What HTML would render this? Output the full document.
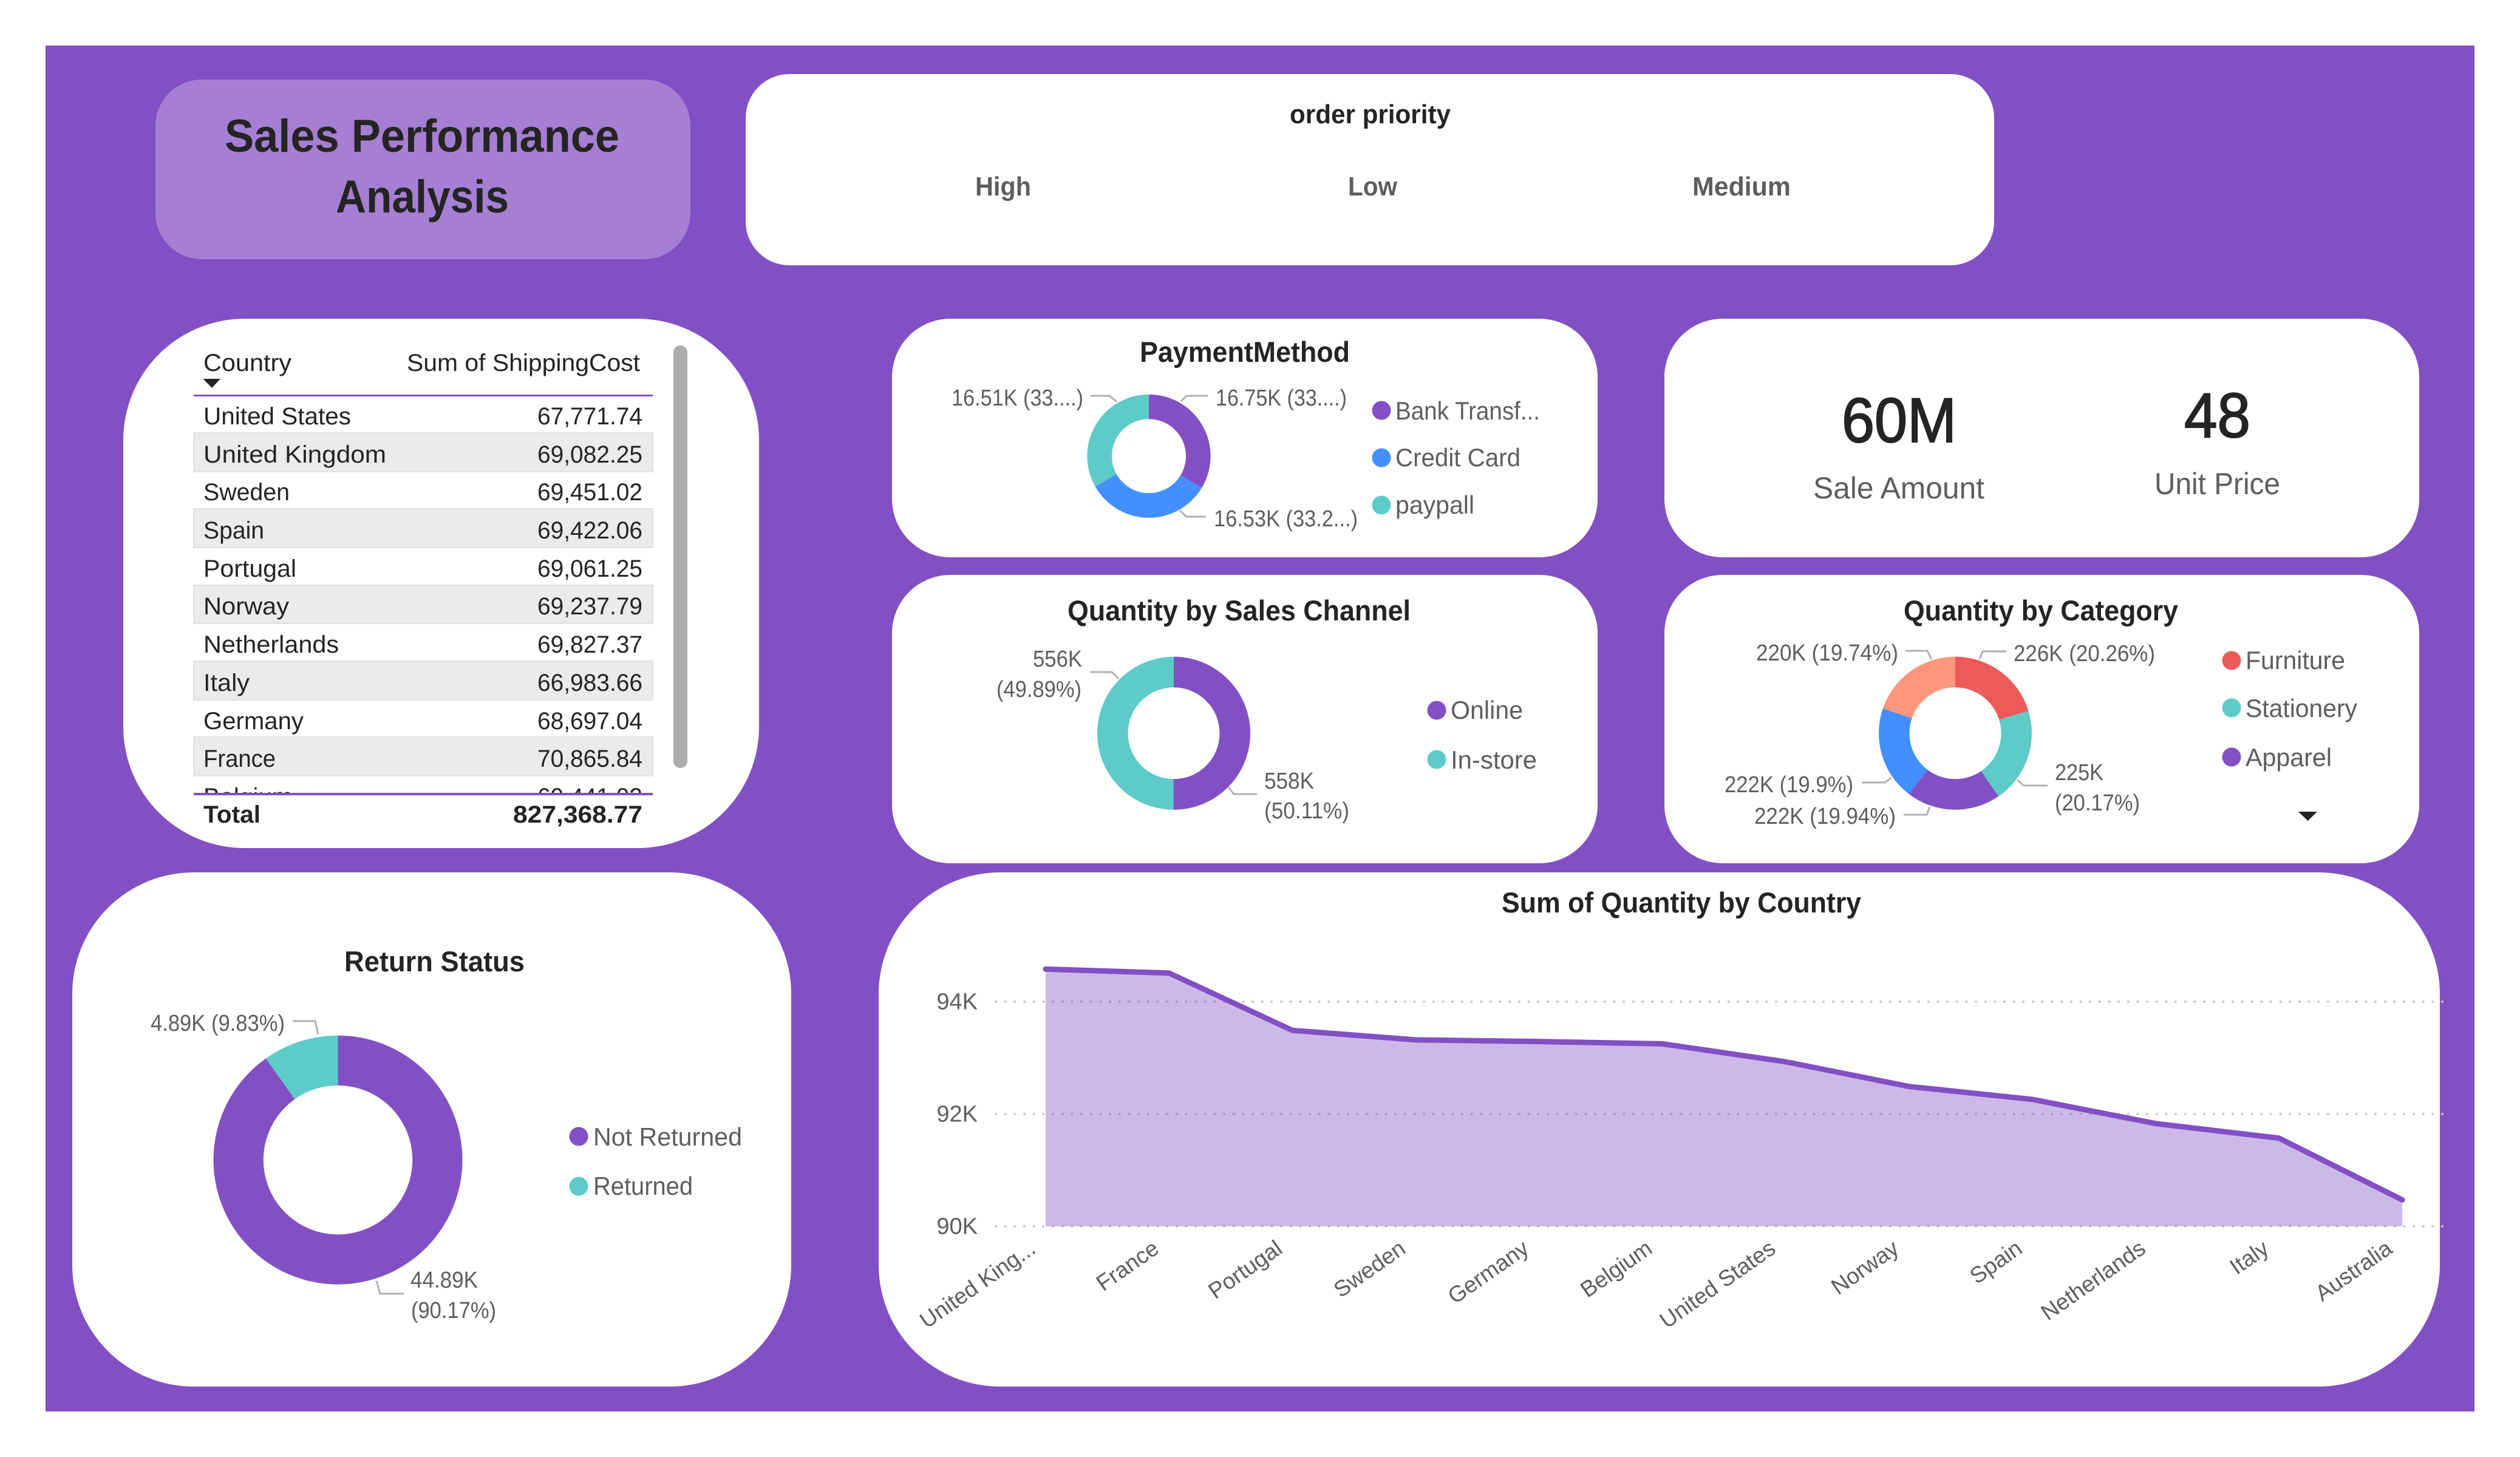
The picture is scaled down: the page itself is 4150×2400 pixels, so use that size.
<!DOCTYPE html>
<html lang="en">
<head>
<meta charset="utf-8">
<title>Sales Performance Analysis</title>
<style>
html,body{margin:0;padding:0;width:4150px;height:2400px;background:#fff;overflow:hidden}
svg{display:block;position:absolute;left:0;top:0}
text{font-family:"Liberation Sans",sans-serif}
.ttl{font-weight:700;font-size:47px;fill:#252423}
.lbl{font-size:38px;fill:#605E5C}
.leg{font-size:42px;fill:#605E5C}
.tb{font-size:40px;fill:#252423}
.tbb{font-size:40px;fill:#252423;font-weight:700}
.slc{font-size:44px;fill:#605E5C;font-weight:700}
.ldr{fill:none;stroke:#B3B0AD;stroke-width:3}
.kpi{font-size:104px;fill:#252423;stroke:#252423;stroke-width:2}
.kpil{font-size:50px;fill:#605E5C}
</style>
</head>
<body>
<svg id="dash" width="4150" height="2400" viewBox="0 0 4150 2400" xmlns="http://www.w3.org/2000/svg">
  <defs>
    <clipPath id="tableClip"><rect x="319" y="655" width="756" height="651"/></clipPath>
  </defs>
  <rect x="75" y="75" width="4000" height="2250" fill="#8250C4"/>

  <!-- Title -->
  <g>
    <rect x="256" y="131" width="881" height="296" rx="76" ry="76" fill="#A47FD4"/>
    <text x="370" y="250" font-size="76" font-weight="700" fill="#252423" textLength="650" lengthAdjust="spacingAndGlyphs">Sales Performance</text>
    <text x="553" y="350" font-size="76" font-weight="700" fill="#252423" textLength="285" lengthAdjust="spacingAndGlyphs">Analysis</text>
  </g>

  <!-- Slicer -->
  <g>
    <rect x="1228" y="122" width="2056" height="315" rx="72" ry="72" fill="#fff"/>
    <text x="2124" y="203" font-size="44" font-weight="700" fill="#252423" textLength="265" lengthAdjust="spacingAndGlyphs">order priority</text>
    <text class="slc" x="1606" y="322" textLength="92" lengthAdjust="spacingAndGlyphs">High</text>
    <text class="slc" x="2220" y="322" textLength="81" lengthAdjust="spacingAndGlyphs">Low</text>
    <text class="slc" x="2787" y="322" textLength="162" lengthAdjust="spacingAndGlyphs">Medium</text>
  </g>

  <!-- Table -->
  <g>
    <rect x="203" y="525" width="1047" height="872" rx="200" ry="200" fill="#fff"/>
    <text class="tb" x="335" y="611" textLength="145" lengthAdjust="spacingAndGlyphs">Country</text>
    <text class="tb" x="670" y="611" textLength="384" lengthAdjust="spacingAndGlyphs">Sum of ShippingCost</text>
    <polygon points="334.5,624 363,624 349,639" fill="#252423"/>
    <g fill="#EBEBEB" stroke="#E1E1E1" stroke-width="2">
      <rect x="319" y="713" width="756" height="64"/>
      <rect x="319" y="838" width="756" height="64"/>
      <rect x="319" y="964" width="756" height="63"/>
      <rect x="319" y="1089" width="756" height="64"/>
      <rect x="319" y="1214" width="756" height="64"/>
    </g>
    <g clip-path="url(#tableClip)">
      <text class="tb" x="335" y="699" textLength="243" lengthAdjust="spacingAndGlyphs">United States</text>
      <text class="tb" x="885" y="699" textLength="173" lengthAdjust="spacingAndGlyphs">67,771.74</text>
      <text class="tb" x="335" y="762" textLength="301" lengthAdjust="spacingAndGlyphs">United Kingdom</text>
      <text class="tb" x="885" y="762" textLength="173" lengthAdjust="spacingAndGlyphs">69,082.25</text>
      <text class="tb" x="335" y="824" textLength="142" lengthAdjust="spacingAndGlyphs">Sweden</text>
      <text class="tb" x="885" y="824" textLength="173" lengthAdjust="spacingAndGlyphs">69,451.02</text>
      <text class="tb" x="335" y="887" textLength="100" lengthAdjust="spacingAndGlyphs">Spain</text>
      <text class="tb" x="885" y="887" textLength="173" lengthAdjust="spacingAndGlyphs">69,422.06</text>
      <text class="tb" x="335" y="950" textLength="153" lengthAdjust="spacingAndGlyphs">Portugal</text>
      <text class="tb" x="885" y="950" textLength="173" lengthAdjust="spacingAndGlyphs">69,061.25</text>
      <text class="tb" x="335" y="1012" textLength="141" lengthAdjust="spacingAndGlyphs">Norway</text>
      <text class="tb" x="885" y="1012" textLength="173" lengthAdjust="spacingAndGlyphs">69,237.79</text>
      <text class="tb" x="335" y="1075" textLength="223" lengthAdjust="spacingAndGlyphs">Netherlands</text>
      <text class="tb" x="885" y="1075" textLength="173" lengthAdjust="spacingAndGlyphs">69,827.37</text>
      <text class="tb" x="335" y="1138" textLength="76" lengthAdjust="spacingAndGlyphs">Italy</text>
      <text class="tb" x="885" y="1138" textLength="173" lengthAdjust="spacingAndGlyphs">66,983.66</text>
      <text class="tb" x="335" y="1201" textLength="165" lengthAdjust="spacingAndGlyphs">Germany</text>
      <text class="tb" x="885" y="1201" textLength="173" lengthAdjust="spacingAndGlyphs">68,697.04</text>
      <text class="tb" x="335" y="1263" textLength="119" lengthAdjust="spacingAndGlyphs">France</text>
      <text class="tb" x="885" y="1263" textLength="173" lengthAdjust="spacingAndGlyphs">70,865.84</text>
      <text class="tb" x="335" y="1326" textLength="147" lengthAdjust="spacingAndGlyphs">Belgium</text>
      <text class="tb" x="885" y="1326" textLength="173" lengthAdjust="spacingAndGlyphs">69,441.03</text>
    </g>
    <rect x="319" y="650" width="756" height="3" fill="#8250C4"/>
    <rect x="319" y="1306" width="756" height="4" fill="#8250C4"/>
    <text class="tbb" x="335" y="1355" textLength="94" lengthAdjust="spacingAndGlyphs">Total</text>
    <text class="tbb" x="845" y="1355" textLength="213" lengthAdjust="spacingAndGlyphs">827,368.77</text>
    <rect x="1109" y="569" width="23" height="696" rx="11" fill="#ADADAD"/>
  </g>

  <!-- Payment method -->
  <g>
    <rect x="1469" y="525" width="1162" height="393" rx="96" ry="96" fill="#fff"/>
    <text class="ttl" x="1877" y="596" textLength="346" lengthAdjust="spacingAndGlyphs">PaymentMethod</text>
    <g id="paymentDonut"></g>
    <polyline class="ldr" points="1796,652 1827,652 1839,662"/>
    <polyline class="ldr" points="1989,652 1954,652 1945,661"/>
    <polyline class="ldr" points="1986,851 1954,851 1943,841"/>
    <text class="lbl" x="1567" y="668" textLength="217" lengthAdjust="spacingAndGlyphs">16.51K (33....)</text>
    <text class="lbl" x="2002" y="668" textLength="216" lengthAdjust="spacingAndGlyphs">16.75K (33....)</text>
    <text class="lbl" x="1999" y="867" textLength="237" lengthAdjust="spacingAndGlyphs">16.53K (33.2...)</text>
    <circle cx="2275" cy="676" r="15.5" fill="#8250C4"/>
    <circle cx="2275" cy="754" r="15.5" fill="#438FFF"/>
    <circle cx="2275" cy="832" r="15.5" fill="#5ECBC8"/>
    <text class="leg" x="2298" y="691" textLength="238" lengthAdjust="spacingAndGlyphs">Bank Transf...</text>
    <text class="leg" x="2298" y="768" textLength="206" lengthAdjust="spacingAndGlyphs">Credit Card</text>
    <text class="leg" x="2298" y="846" textLength="130" lengthAdjust="spacingAndGlyphs">paypall</text>
  </g>

  <!-- Sales channel -->
  <g>
    <rect x="1469" y="947" width="1162" height="475" rx="96" ry="96" fill="#fff"/>
    <text class="ttl" x="1758" y="1022" textLength="565" lengthAdjust="spacingAndGlyphs">Quantity by Sales Channel</text>
    <g id="channelDonut"></g>
    <polyline class="ldr" points="1795,1107 1831,1107 1842,1118"/>
    <polyline class="ldr" points="2070,1308 2032,1308 2023,1297"/>
    <text class="lbl" x="1701" y="1098" textLength="81" lengthAdjust="spacingAndGlyphs">556K</text>
    <text class="lbl" x="1641" y="1148" textLength="140" lengthAdjust="spacingAndGlyphs">(49.89%)</text>
    <text class="lbl" x="2082" y="1299" textLength="82" lengthAdjust="spacingAndGlyphs">558K</text>
    <text class="lbl" x="2082" y="1348" textLength="140" lengthAdjust="spacingAndGlyphs">(50.11%)</text>
    <circle cx="2366" cy="1170" r="15.5" fill="#8250C4"/>
    <circle cx="2366" cy="1251" r="15.5" fill="#5ECBC8"/>
    <text class="leg" x="2389" y="1184" textLength="119" lengthAdjust="spacingAndGlyphs">Online</text>
    <text class="leg" x="2389" y="1266" textLength="142" lengthAdjust="spacingAndGlyphs">In-store</text>
  </g>

  <!-- KPI -->
  <g>
    <rect x="2741" y="525" width="1243" height="393" rx="96" ry="96" fill="#fff"/>
    <text class="kpi" x="3033" y="728" textLength="189" lengthAdjust="spacingAndGlyphs">60M</text>
    <text class="kpil" x="2986" y="821" textLength="282" lengthAdjust="spacingAndGlyphs">Sale Amount</text>
    <text class="kpi" x="3597" y="720" textLength="109" lengthAdjust="spacingAndGlyphs">48</text>
    <text class="kpil" x="3548" y="814" textLength="207" lengthAdjust="spacingAndGlyphs">Unit Price</text>
  </g>

  <!-- Category -->
  <g>
    <rect x="2741" y="947" width="1243" height="475" rx="96" ry="96" fill="#fff"/>
    <text class="ttl" x="3135" y="1022" textLength="452" lengthAdjust="spacingAndGlyphs">Quantity by Category</text>
    <g id="categoryDonut"></g>
    <polyline class="ldr" points="3138,1072 3174,1072 3181,1086"/>
    <polyline class="ldr" points="3304,1073 3265,1073 3260,1086"/>
    <polyline class="ldr" points="3372,1294 3333,1294 3322,1285"/>
    <polyline class="ldr" points="3066,1289 3104,1289 3115,1281"/>
    <polyline class="ldr" points="3135,1342 3173,1342 3178,1329"/>
    <text class="lbl" x="2892" y="1088" textLength="234" lengthAdjust="spacingAndGlyphs">220K (19.74%)</text>
    <text class="lbl" x="3316" y="1089" textLength="233" lengthAdjust="spacingAndGlyphs">226K (20.26%)</text>
    <text class="lbl" x="3384" y="1285" textLength="80" lengthAdjust="spacingAndGlyphs">225K</text>
    <text class="lbl" x="3384" y="1335" textLength="140" lengthAdjust="spacingAndGlyphs">(20.17%)</text>
    <text class="lbl" x="2840" y="1305" textLength="212" lengthAdjust="spacingAndGlyphs">222K (19.9%)</text>
    <text class="lbl" x="2889" y="1357" textLength="233" lengthAdjust="spacingAndGlyphs">222K (19.94%)</text>
    <circle cx="3675" cy="1088" r="15.5" fill="#EC5A5A"/>
    <circle cx="3675" cy="1166" r="15.5" fill="#5ECBC8"/>
    <circle cx="3675" cy="1247" r="15.5" fill="#8250C4"/>
    <text class="leg" x="3698" y="1102" textLength="164" lengthAdjust="spacingAndGlyphs">Furniture</text>
    <text class="leg" x="3698" y="1181" textLength="184" lengthAdjust="spacingAndGlyphs">Stationery</text>
    <text class="leg" x="3698" y="1262" textLength="142" lengthAdjust="spacingAndGlyphs">Apparel</text>
    <polygon points="3785,1337 3816,1337 3800.5,1352" fill="#252423"/>
  </g>

  <!-- Return status -->
  <g>
    <rect x="119" y="1437" width="1184" height="847" rx="200" ry="200" fill="#fff"/>
    <text class="ttl" x="567" y="1600" textLength="297" lengthAdjust="spacingAndGlyphs">Return Status</text>
    <g id="returnDonut"></g>
    <polyline class="ldr" points="482,1682 519,1682 524,1704"/>
    <polyline class="ldr" points="665,2131 626,2131 620,2110"/>
    <text class="lbl" x="248" y="1698" textLength="221" lengthAdjust="spacingAndGlyphs">4.89K (9.83%)</text>
    <text class="lbl" x="676" y="2121" textLength="111" lengthAdjust="spacingAndGlyphs">44.89K</text>
    <text class="lbl" x="677" y="2171" textLength="140" lengthAdjust="spacingAndGlyphs">(90.17%)</text>
    <circle cx="953" cy="1872" r="15.5" fill="#8250C4"/>
    <circle cx="953" cy="1954" r="15.5" fill="#5ECBC8"/>
    <text class="leg" x="977" y="1887" textLength="245" lengthAdjust="spacingAndGlyphs">Not Returned</text>
    <text class="leg" x="977" y="1968" textLength="164" lengthAdjust="spacingAndGlyphs">Returned</text>
  </g>

  <!-- Area chart -->
  <g>
    <rect x="1447" y="1437" width="2571" height="847" rx="200" ry="200" fill="#fff"/>
    <text class="ttl" x="2473" y="1503" textLength="592" lengthAdjust="spacingAndGlyphs">Sum of Quantity by Country</text>
    <g id="areaChart"></g>
  </g>
</svg>

<script>
// Donut data
const paymentValues = [16.75, 16.53, 16.51];
const paymentColors = ['#8250C4', '#438FFF', '#5ECBC8'];
const channelValues = [558, 556];
const channelColors = ['#8250C4', '#5ECBC8'];
const categoryValues = [226, 225, 222, 222, 220];
const categoryColors = ['#EC5A5A', '#5ECBC8', '#8250C4', '#438FFF', '#FF977E'];
const returnValues = [44.89, 4.89];
const returnColors = ['#8250C4', '#5ECBC8'];

// Area chart data
const countries = ['United King...', 'France', 'Portugal', 'Sweden', 'Germany', 'Belgium', 'United States', 'Norway', 'Spain', 'Netherlands', 'Italy', 'Australia'];
const quantities = [94580, 94510, 93490, 93320, 93290, 93250, 92930, 92490, 92260, 91830, 91570, 90470];
const yTicks = [90000, 92000, 94000];
const yTickLabels = ['90K', '92K', '94K'];

const NS = 'http://www.w3.org/2000/svg';

function polar(cx, cy, r, a) {
  return [cx + r * Math.sin(a), cy - r * Math.cos(a)];
}

function drawDonut(id, cx, cy, R, r, values, colors) {
  const g = document.getElementById(id);
  const total = values.reduce((s, v) => s + v, 0);
  let start = 0;
  values.forEach((v, i) => {
    const sweep = v / total * Math.PI * 2;
    const end = start + sweep;
    const large = sweep > Math.PI ? 1 : 0;
    const p1 = polar(cx, cy, R, start);
    const p2 = polar(cx, cy, R, end);
    const p3 = polar(cx, cy, r, end);
    const p4 = polar(cx, cy, r, start);
    const el = document.createElementNS(NS, 'path');
    el.setAttribute('d', `M${p1[0]} ${p1[1]}A${R} ${R} 0 ${large} 1 ${p2[0]} ${p2[1]}L${p3[0]} ${p3[1]}A${r} ${r} 0 ${large} 0 ${p4[0]} ${p4[1]}Z`);
    el.setAttribute('fill', colors[i]);
    
    
    g.appendChild(el);
    start = end;
  });
}

drawDonut('paymentDonut', 1892, 751.3, 101.6, 61, paymentValues, paymentColors);
drawDonut('channelDonut', 1933, 1207.8, 126, 75.5, channelValues, channelColors);
drawDonut('categoryDonut', 3220, 1207.8, 126, 75.5, categoryValues, categoryColors);
drawDonut('returnDonut', 556.5, 1910.7, 205, 122.7, returnValues, returnColors);

// Area chart axes
const plot = document.getElementById('areaChart');
const xFirst = 1722, xStep = 203.1;
const y90 = 2020, pxPerUnit = 92.5 / 1000;
function xScale(i) { return xFirst + i * xStep; }
function yScale(v) { return y90 - (v - 90000) * pxPerUnit; }

yTicks.forEach((t, i) => {
  const line = document.createElementNS(NS, 'line');
  line.setAttribute('x1', 1640);
  line.setAttribute('x2', 4034);
  line.setAttribute('y1', yScale(t));
  line.setAttribute('y2', yScale(t));
  line.setAttribute('stroke', '#C8C6C4');
  line.setAttribute('stroke-width', '4');
  line.setAttribute('stroke-linecap', 'round');
  line.setAttribute('stroke-dasharray', '0 15.67');
  
  
  plot.appendChild(line);

  const lab = document.createElementNS(NS, 'text');
  lab.setAttribute('x', 1610);
  lab.setAttribute('y', yScale(t) + 12.5);
  lab.setAttribute('text-anchor', 'end');
  lab.setAttribute('class', 'lbl');
  lab.setAttribute('font-size', '36');
  
  
  lab.textContent = yTickLabels[i];
  plot.appendChild(lab);
});

const linePts = quantities.map((v, i) => xScale(i) + ',' + yScale(v));

const area = document.createElementNS(NS, 'polygon');
area.setAttribute('points', xScale(0) + ',' + y90 + ' ' + linePts.join(' ') + ' ' + xScale(quantities.length - 1) + ',' + y90);
area.setAttribute('fill', '#8250C4');
area.setAttribute('fill-opacity', '0.4');


plot.appendChild(area);

const path = document.createElementNS(NS, 'polyline');
path.setAttribute('points', linePts.join(' '));
path.setAttribute('fill', 'none');
path.setAttribute('stroke', '#8250C4');
path.setAttribute('stroke-width', '9');
path.setAttribute('stroke-linecap', 'round');
path.setAttribute('stroke-linejoin', 'round');


plot.appendChild(path);

countries.forEach((c, i) => {
  const t = document.createElementNS(NS, 'text');
  const tx = xScale(i) - 14;
  t.setAttribute('transform', `translate(${tx},2062) rotate(-35)`);
  t.setAttribute('text-anchor', 'end');
  t.setAttribute('class', 'lbl');
  t.setAttribute('style', 'font-size:37px');
  
  
  t.textContent = c;
  plot.appendChild(t);
});
</script>
</body>
</html>
